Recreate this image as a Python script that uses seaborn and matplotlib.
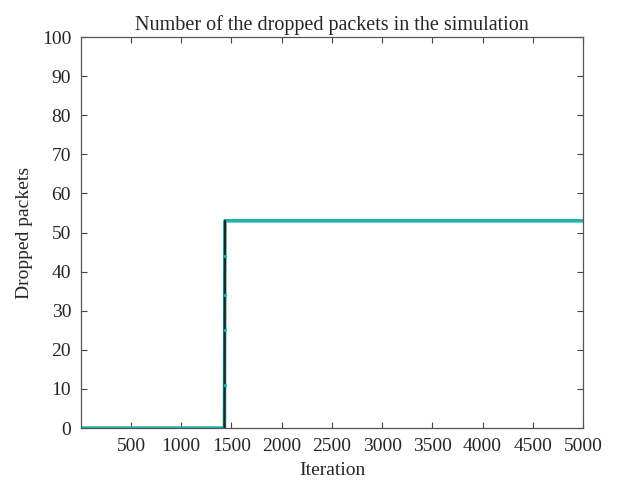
import numpy as np
import pandas as pd
import matplotlib
matplotlib.use("Agg")
import matplotlib.pyplot as plt
import seaborn as sns

# Dropped packet count per iteration: none until the burst, then a rapid climb to 53
iterations = np.arange(1, 5001)
jump_iters = [1430, 1431, 1432, 1433, 1434, 1435]
jump_vals = [0, 11, 25, 34, 44, 53]
before_val = 0
after_val = 53

dropped = np.where(iterations < jump_iters[0], before_val, after_val).astype(float)
for it, v in zip(jump_iters, jump_vals):
    dropped[iterations == it] = v

df = pd.DataFrame({"Iteration": iterations, "Dropped packets": dropped})
jump_df = pd.DataFrame({"Iteration": jump_iters, "Dropped packets": jump_vals})

sns.set_style("white")
plt.rcParams["font.family"] = ["Liberation Serif", "DejaVu Serif"]

fig = plt.figure(figsize=(6.17, 4.87), dpi=100)
ax = fig.add_axes([0.131, 0.121, 0.814, 0.803])

teal = "#1eb4ad"
sns.lineplot(data=df, x="Iteration", y="Dropped packets", ax=ax,
             color=teal, linewidth=2.6, zorder=2)
sns.lineplot(data=jump_df, x="Iteration", y="Dropped packets", ax=ax,
             color="#222222", linewidth=1.6, zorder=3)
ax.scatter(jump_iters[1:-1], jump_vals[1:-1], s=6, color=teal, zorder=4,
           linewidths=0)

ax.set_xlim(0, 5000)
ax.set_ylim(0, 100)
ax.set_xticks(np.arange(500, 5001, 500))
ax.set_yticks(np.arange(0, 101, 10))
ax.tick_params(direction="in", length=4, width=0.8, color="#444444",
               labelsize=14, top=True, right=True, bottom=True, left=True,
               pad=7)
for s in ax.spines.values():
    s.set_color("#555555")
    s.set_linewidth(0.9)

ax.set_xlabel("Iteration", fontsize=14, labelpad=5)
ax.set_ylabel("Dropped packets", fontsize=14, labelpad=6)
ax.set_title("Number of the dropped packets in the simulation", fontsize=14.5, pad=5)

fig.savefig("out.png", dpi=100)
